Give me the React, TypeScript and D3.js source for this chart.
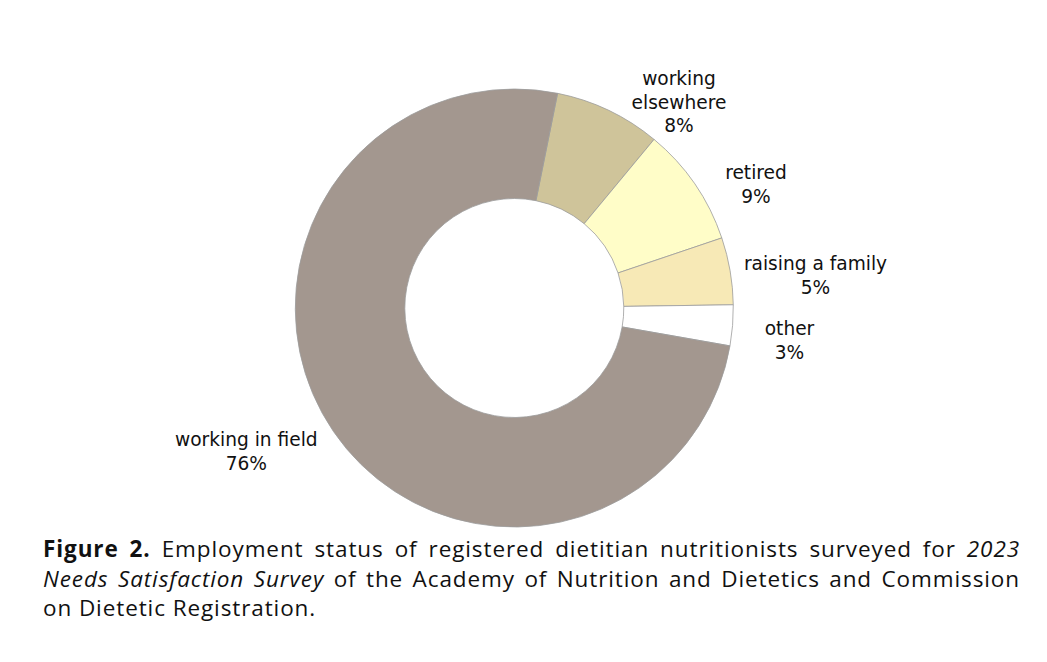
import React, { useEffect, useRef } from "react";
import * as d3 from "d3";

const categories = ["working elsewhere", "retired", "raising a family", "other", "working in field"];
const values = [7.85, 8.8, 4.95, 3.0, 75.4];
const percentLabels = ["8%", "9%", "5%", "3%", "76%"];
const colors = ["#CFC49A", "#FFFDC8", "#F7E9B6", "#FFFFFF", "#A3978F"];
const nameLines = [["working", "elsewhere"], ["retired"], ["raising a family"], ["other"], ["working in field"]];

const captionLines: { t: string; s: string }[][] = [
  [
    { t: "Figure 2.", s: "b" },
    { t: "Employment status of registered dietitian nutritionists surveyed for", s: "n" },
    { t: "2023", s: "i" },
  ],
  [
    { t: "Needs Satisfaction Survey", s: "i" },
    { t: "of the Academy of Nutrition and Dietetics and Commission", s: "n" },
  ],
  [{ t: "on Dietetic Registration.", s: "n" }],
];

const W = 1047;
const H = 662;
const layout = {
  cx: 514.3,
  cy: 308,
  outerR: 219,
  innerR: 109.5,
  startDeg: 11.4,
  labelFont: 18.6,
  lineGap: 23.5,
  labelAnchors: [
    [679, 85],
    [756, 179],
    [815.5, 270],
    [789.5, 335],
    [246.3, 446],
  ],
  captionX0: 43,
  captionX1: 1020,
  captionBaselines: [557, 587, 616],
  captionFont: 22.5,
  captionSpacing: 0.9,
};

export default function App() {
  const ref = useRef<SVGSVGElement>(null);

  useEffect(() => {
    const svg = d3.select(ref.current);
    svg.selectAll("*").remove();

    const pie = d3
      .pie<number>()
      .sort(null)
      .value((d) => d)
      .startAngle((layout.startDeg * Math.PI) / 180)
      .endAngle((layout.startDeg * Math.PI) / 180 + 2 * Math.PI);
    const arc = d3.arc<d3.PieArcDatum<number>>().innerRadius(layout.innerR).outerRadius(layout.outerR);

    const g = svg.append("g").attr("transform", `translate(${layout.cx},${layout.cy})`);
    g.selectAll("path")
      .data(pie(values))
      .join("path")
      .attr("d", arc)
      .attr("fill", (_d, i) => colors[i])
      .attr("stroke", "#9c9c9c")
      .attr("stroke-width", 0.8);

    categories.forEach((_c, i) => {
      const [x, y] = layout.labelAnchors[i];
      const lines = [...nameLines[i], percentLabels[i]];
      const t = svg
        .append("text")
        .attr("font-family", "'DejaVu Sans', Verdana, sans-serif")
        .attr("font-size", layout.labelFont)
        .attr("fill", "#111")
        .attr("text-anchor", "middle");
      lines.forEach((ln, j) => {
        t.append("tspan").attr("x", x).attr("y", y + j * layout.lineGap).text(ln);
      });
    });

    const cap = svg
      .append("g")
      .attr("font-family", "'Open Sans', 'Noto Sans', sans-serif")
      .attr("font-size", layout.captionFont)
      .attr("letter-spacing", layout.captionSpacing)
      .attr("fill", "#111");
    captionLines.forEach((segs, li) => {
      const words: { t: string; s: string }[] = [];
      segs.forEach((sg) => sg.t.split(" ").forEach((w) => words.push({ t: w, s: sg.s })));
      const els = words.map((w) =>
        cap
          .append("text")
          .attr("y", layout.captionBaselines[li])
          .attr("font-weight", w.s === "b" ? "bold" : "normal")
          .attr("font-style", w.s === "i" ? "italic" : "normal")
          .text(w.t)
      );
      const widths = els.map((e) => (e.node() as SVGTextElement).getComputedTextLength());
      const total = d3.sum(widths);
      const justify = li < captionLines.length - 1;
      const gap = justify
        ? (layout.captionX1 - layout.captionX0 - total) / (words.length - 1)
        : layout.captionFont * 0.3;
      let x = layout.captionX0;
      els.forEach((e, k) => {
        e.attr("x", x);
        x += widths[k] + gap;
      });
    });
  }, []);

  return <svg ref={ref} width={W} height={H} style={{ display: "block", margin: "-8px", background: "#fff" }} />;
}
